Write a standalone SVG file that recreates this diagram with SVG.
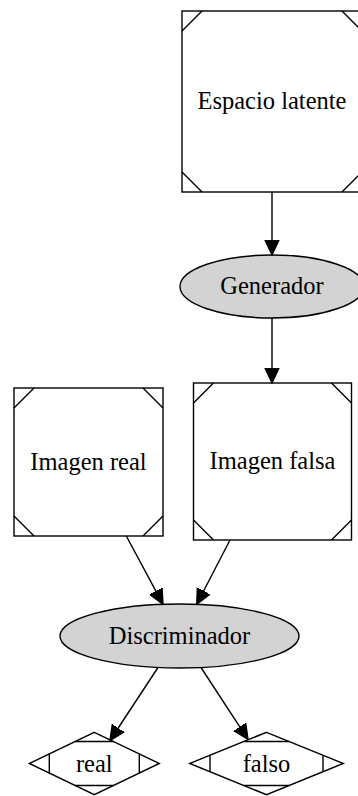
<svg xmlns="http://www.w3.org/2000/svg" width="358" height="796" viewBox="0 0 358 796">
  <style>
    .shape { fill: #ffffff; stroke: #000000; stroke-width: 1.4; }
    .filled { fill: #d3d3d3; stroke: #000000; stroke-width: 1.4; }
    .mark { fill: none; stroke: #000000; stroke-width: 1.4; }
    .label { font-family: "Liberation Serif", "Times New Roman", serif; font-size: 24.5px; fill: #000000; text-anchor: middle; }
    .edge { fill: none; stroke: #000000; stroke-width: 1.4; marker-end: url(#arrow); }
  </style>
  <defs>
    <marker id="arrow" markerUnits="userSpaceOnUse" markerWidth="16" markerHeight="16" viewBox="0 -8 16 16" refX="0" refY="0" orient="auto">
      <path d="M0,-7 L15,0 L0,7 Z" fill="#000000" stroke="#000000" stroke-width="1.4"/>
    </marker>
  </defs>
  <rect width="358" height="796" fill="#ffffff"/>

  <!-- Msquare: latent space -->
  <g id="espacio_latente">
    <rect class="shape" x="182" y="11" width="180" height="181"/>
    <path class="mark" d="M182,31 L202,11 M342,11 L362,31 M182,172 L202,192 M342,192 L362,172"/>
    <text class="label" x="272" y="109">Espacio latente</text>
  </g>

  <g id="generador">
    <ellipse class="filled" cx="272" cy="286.5" rx="92" ry="31.5"/>
    <text class="label" x="272" y="294">Generador</text>
  </g>

  <g id="imagen_real">
    <rect class="shape" x="14" y="388" width="149" height="148"/>
    <path class="mark" d="M14,408 L34,388 M143,388 L163,408 M14,516 L34,536 M143,536 L163,516"/>
    <text class="label" x="88.5" y="469.5">Imagen real</text>
  </g>

  <g id="imagen_falsa">
    <rect class="shape" x="193.5" y="383" width="158" height="157"/>
    <path class="mark" d="M193.5,403 L213.5,383 M331.5,383 L351.5,403 M193.5,520 L213.5,540 M331.5,540 L351.5,520"/>
    <text class="label" x="272.5" y="469">Imagen falsa</text>
  </g>

  <g id="discriminador">
    <ellipse class="filled" cx="179.5" cy="636" rx="119.5" ry="32"/>
    <text class="label" x="179.5" y="643.5">Discriminador</text>
  </g>

  <!-- Mdiamond outputs -->
  <g id="real">
    <polygon class="shape" points="94.3,732.3 159.3,763.5 94.3,794.7 29.3,763.5"/>
    <path class="mark" d="M75,741.5 L113.6,741.5 M75,785.5 L113.6,785.5 M49.3,753.8 L49.3,773.2 M139.3,753.8 L139.3,773.2"/>
    <text class="label" x="94.3" y="771.5">real</text>
  </g>

  <g id="falso">
    <polygon class="shape" points="266.5,732.3 343.3,763.5 266.5,794.7 189.7,763.5"/>
    <path class="mark" d="M244,741.5 L289,741.5 M244,785.5 L289,785.5 M210,755 L210,772 M323,755 L323,772"/>
    <text class="label" x="266.5" y="771.5">falso</text>
  </g>

  <g id="connectors">
    <path class="edge" d="M272,192 L272,240"/>
    <path class="edge" d="M272,318 L272,368"/>
    <path class="edge" d="M126.3,536 L155.9,591.1"/>
    <path class="edge" d="M230,540 L203.6,591"/>
    <path class="edge" d="M158,667.5 L118.2,728"/>
    <path class="edge" d="M201,667.5 L239.8,726.9"/>
  </g>
</svg>
